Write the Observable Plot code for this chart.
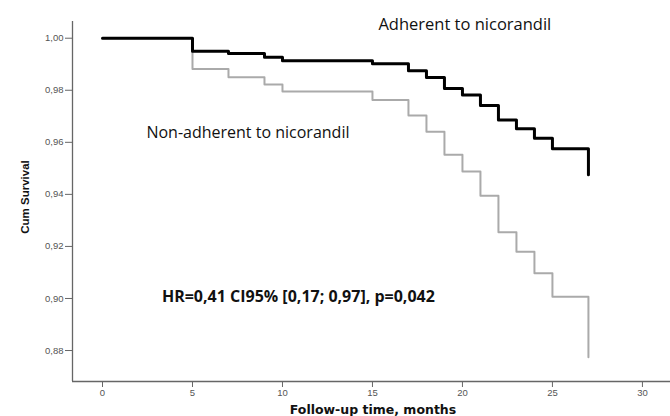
<!DOCTYPE html>
<html>
<head>
<meta charset="utf-8">
<script src="https://cdn.jsdelivr.net/npm/d3@7"></script>
<script src="https://cdn.jsdelivr.net/npm/@observablehq/plot@0.6"></script>
<style>
  html, body { margin: 0; padding: 0; background: #fff; }
  #chart svg { display: block; }
</style>
</head>
<body>
<div id="chart"></div>
<script>
// Kaplan–Meier step data (time in months, cumulative survival)
const adherentTime = [0, 5, 7, 9, 10, 15, 17, 18, 19, 20, 21, 22, 23, 24, 25, 27];
const adherentSurv = [1.000, 0.9950, 0.9941, 0.9927, 0.9913, 0.9902, 0.9875, 0.9849, 0.9807, 0.9782, 0.9741, 0.9686, 0.9652, 0.9616, 0.9575, 0.9475];
const nonAdherentTime = [0, 5, 7, 9, 10, 15, 17, 18, 19, 20, 21, 22, 23, 24, 25, 27];
const nonAdherentSurv = [1.000, 0.9882, 0.9850, 0.9822, 0.9795, 0.9763, 0.9703, 0.9641, 0.9552, 0.9488, 0.9395, 0.9254, 0.9180, 0.9097, 0.9007, 0.8774];
const xTicks = [0, 5, 10, 15, 20, 25, 30];
const yTicks = [0.88, 0.90, 0.92, 0.94, 0.96, 0.98, 1.00];
const labelAdherent = "Adherent to nicorandil";
const labelNonAdherent = "Non-adherent to nicorandil";
const labelHR = "HR=0,41 CI95% [0,17; 0,97], p=0,042";

const adherent = adherentTime.map((t, i) => ({t, s: adherentSurv[i]}));
const nonAdherent = nonAdherentTime.map((t, i) => ({t, s: nonAdherentSurv[i]}));
const fmt = d => d.toFixed(2).replace(".", ",");

const chart = Plot.plot({
  width: 670,
  height: 416,
  marginLeft: 72,
  marginRight: 0,
  marginTop: 21,
  marginBottom: 35,
  style: {fontFamily: "Liberation Sans, Arial, sans-serif", background: "#fff"},
  x: {domain: [-1.667, 31.56], label: null},
  y: {domain: [0.8681, 1.00642], label: null},
  marks: [
    Plot.axisY({ticks: yTicks, tickFormat: fmt, tickSize: 7, tickPadding: 2, fontSize: 9.5, color: "#555", stroke: "#666", label: null}),
    Plot.axisX({ticks: xTicks, tickSize: 6, tickPadding: 2, fontSize: 9.5, color: "#555", stroke: "#666", label: null}),
    Plot.ruleX([-1.667], {stroke: "#666", strokeWidth: 1.3}),
    Plot.ruleY([0.8681], {stroke: "#666", strokeWidth: 1.3}),
    Plot.line(nonAdherent, {x: "t", y: "s", curve: "step-after", stroke: "#aaa", strokeWidth: 2}),
    Plot.line(adherent, {x: "t", y: "s", curve: "step-after", stroke: "#000", strokeWidth: 3}),
    Plot.text([labelAdherent], {x: 15.33, y: 1.00527, text: d => d, textAnchor: "start", fontSize: 16.5, fontFamily: "Open Sans", fill: "#111"}),
    Plot.text([labelNonAdherent], {x: 2.44, y: 0.96376, text: d => d, textAnchor: "start", fontSize: 16, fontFamily: "Open Sans", fill: "#111"}),
    Plot.text([labelHR], {x: 3.3, y: 0.90073, text: d => d, textAnchor: "start", fontSize: 16, fontWeight: "bold", fontFamily: "Open Sans", fill: "#111"})
  ]
});

const svg = d3.select(chart);
// Axis titles
svg.append("text")
  .attr("transform", "translate(25,197) rotate(-90)")
  .attr("text-anchor", "middle")
  .attr("dy", "0.35em")
  .attr("font-family", "Liberation Sans, Arial, sans-serif")
  .attr("font-weight", "bold")
  .attr("font-size", 11.5)
  .attr("fill", "#111")
  .text("Cum Survival");
svg.append("text")
  .attr("x", 373)
  .attr("y", 414)
  .attr("text-anchor", "middle")
  .attr("font-family", "DejaVu Sans, sans-serif")
  .attr("font-weight", "bold")
  .attr("font-size", 12.5)
  .attr("fill", "#111")
  .text("Follow-up time, months");

document.getElementById("chart").appendChild(chart);
</script>
</body>
</html>
